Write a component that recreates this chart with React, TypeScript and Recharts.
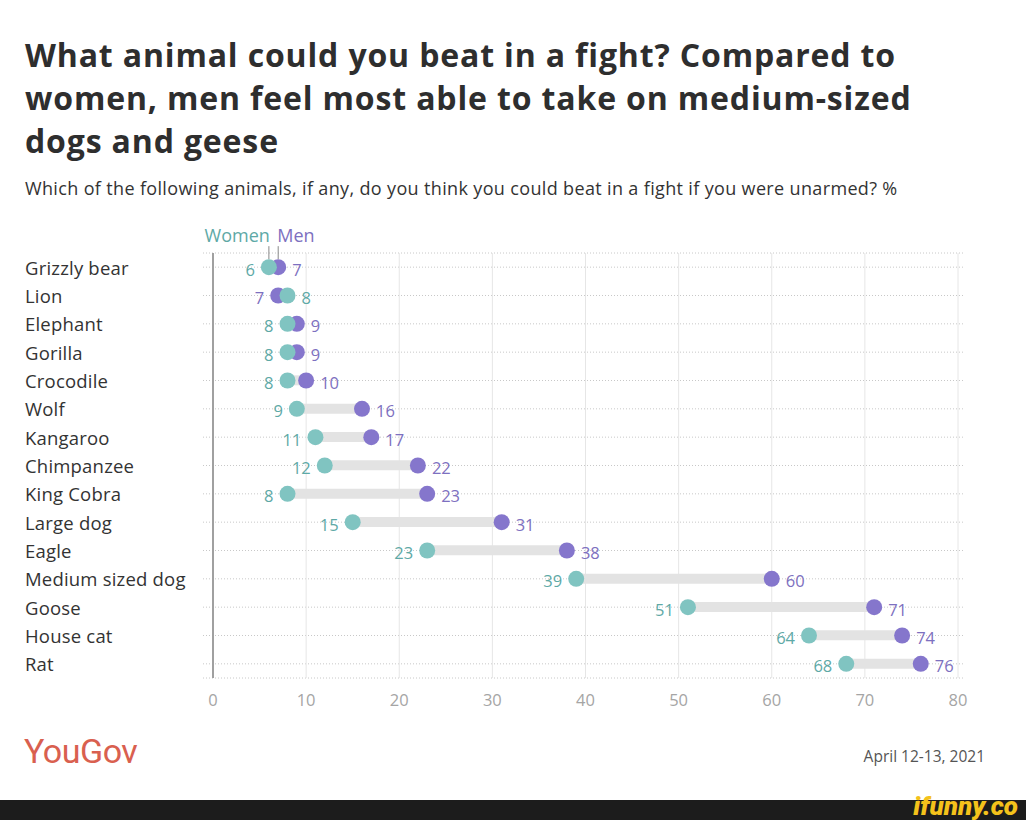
import { Bar, CartesianGrid, ComposedChart, Line, XAxis, YAxis } from "recharts"

const animals = [
  "Grizzly bear",
  "Lion",
  "Elephant",
  "Gorilla",
  "Crocodile",
  "Wolf",
  "Kangaroo",
  "Chimpanzee",
  "King Cobra",
  "Large dog",
  "Eagle",
  "Medium sized dog",
  "Goose",
  "House cat",
  "Rat",
]
const women = [6, 8, 8, 8, 8, 9, 11, 12, 8, 15, 23, 39, 51, 64, 68]
const men = [7, 7, 9, 9, 10, 16, 17, 22, 23, 31, 38, 60, 71, 74, 76]
const xTicks = [0, 10, 20, 30, 40, 50, 60, 70, 80]

const data = animals.map((name, i) => ({
  name,
  women: women[i],
  men: men[i],
  range: [Math.min(women[i], men[i]), Math.max(women[i], men[i])],
}))

const teal = "#80c4c1"
const tealText = "#5ea9a6"
const purple = "#8576cc"
const purpleText = "#7d70c0"
const font = "'Open Sans', 'Noto Sans', sans-serif"

const makeDot = (key: "women" | "men", fill: string, textFill: string, legend: string) => (props: any) => {
  const { cx, cy, payload, index } = props
  if (cx == null || cy == null) return <g key={`${key}-${index}`} />
  const other = key === "women" ? payload.men : payload.women
  const value = payload[key]
  const onLeft = value < other || (value === other && key === "women")
  return (
    <g key={`${key}-${index}`}>
      <circle cx={cx} cy={cy} r={8} fill={fill} />
      <text
        x={onLeft ? cx - 14 : cx + 14}
        y={cy + 2}
        textAnchor={onLeft ? "end" : "start"}
        dominantBaseline="central"
        fontSize={16.5}
        fontFamily={font}
        fill={textFill}
      >
        {value}
      </text>
      {index === 0 && (
        <>
          <line x1={cx} x2={cx} y1={cy - 21} y2={cy - 8} stroke="#888" strokeWidth={1} />
          <text
            x={key === "women" ? cx + 1 : cx - 1}
            y={cy - 25}
            textAnchor={key === "women" ? "end" : "start"}
            fontSize={18}
            fontFamily={font}
            fill={key === "women" ? tealText : purpleText}
          >
            {legend}
          </text>
        </>
      )}
    </g>
  )
}

const CategoryTick = (props: any) => {
  const { y, payload } = props
  return (
    <text x={25} y={y} dominantBaseline="central" fontSize={18.5} letterSpacing={0.2} fontFamily={font} fill="#333">
      {payload.value}
    </text>
  )
}

const ValueTick = (props: any) => {
  const { x, y, payload } = props
  return (
    <text x={x} y={y + 19} textAnchor="middle" dominantBaseline="central" fontSize={16.5} fontFamily={font} fill="#a5a5a5">
      {payload.value}
    </text>
  )
}

const dottedRow = (props: any) => (
  <line
    key={props.key ?? `h-${props.y1}`}
    x1={props.x1 - 10}
    x2={props.x2 + 7}
    y1={props.y1}
    y2={props.y2}
    stroke="#c8c8c8"
    strokeWidth={1}
    strokeDasharray="1 2"
  />
)

export default function App() {
  return (
    <div style={{ position: "absolute", left: 0, top: 0, width: 1026, height: 820, background: "#fff", fontFamily: font, overflow: "hidden" }}>
      <div
        style={{
          position: "absolute",
          left: 25,
          top: 33,
          fontSize: 32,
          fontWeight: 700,
          lineHeight: "43px",
          color: "#2e2e2e",
          whiteSpace: "nowrap",
          letterSpacing: 0.85,
        }}
      >
        What animal could you beat in a fight? Compared to
        <br />
        women, men feel most able to take on medium-sized
        <br />
        dogs and geese
      </div>
      <div style={{ position: "absolute", left: 25, top: 176, fontSize: 18, letterSpacing: 0.35, color: "#333", whiteSpace: "nowrap" }}>
        Which of the following animals, if any, do you think you could beat in a fight if you were unarmed? %
      </div>

      <div style={{ position: "absolute", left: 0, top: 220 }}>
        <ComposedChart width={1026} height={500} data={data} layout="vertical" margin={{ top: 33, right: 68, bottom: 12, left: 25 }}>
          <CartesianGrid horizontal={dottedRow} vertical={false} />
          <CartesianGrid horizontal={false} vertical stroke="#e6e6e6" />
          <XAxis
            type="number"
            domain={[0, 80]}
            ticks={xTicks}
            axisLine={false}
            tickLine={false}
            tickSize={0}
            height={30}
            tick={<ValueTick />}
            interval={0}
          />
          <YAxis
            type="category"
            dataKey="name"
            width={188}
            axisLine={{ stroke: "#a0a0a0", strokeWidth: 2 }}
            tickLine={false}
            tick={<CategoryTick />}
            interval={0}
          />
          <Bar dataKey="range" fill="#e3e3e3" barSize={10} isAnimationActive={false} />
          <Line dataKey="men" stroke="none" dot={makeDot("men", purple, purpleText, "Men")} activeDot={false} isAnimationActive={false} />
          <Line dataKey="women" stroke="none" dot={makeDot("women", teal, tealText, "Women")} activeDot={false} isAnimationActive={false} />
        </ComposedChart>
      </div>

      <div
        style={{
          position: "absolute",
          left: 24,
          top: 731,
          fontSize: 34,
          color: "#d9604f",
          fontFamily: "'Liberation Sans Narrow', 'Roboto', sans-serif",
          letterSpacing: -0.5,
        }}
      >
        YouGov
      </div>
      <div style={{ position: "absolute", right: 41, top: 745, fontSize: 15.5, color: "#555" }}>April 12-13, 2021</div>

      <div style={{ position: "absolute", left: 0, top: 800, width: 1026, height: 20, background: "#1c1c1c" }}>
        <div
          style={{
            position: "absolute",
            right: 8,
            top: -9,
            fontSize: 26,
            fontWeight: 900,
            color: "#f4c21b",
            fontFamily: "'Roboto', sans-serif",
            fontStyle: "italic",
          }}
        >
          ifunny.co
        </div>
      </div>
    </div>
  )
}
